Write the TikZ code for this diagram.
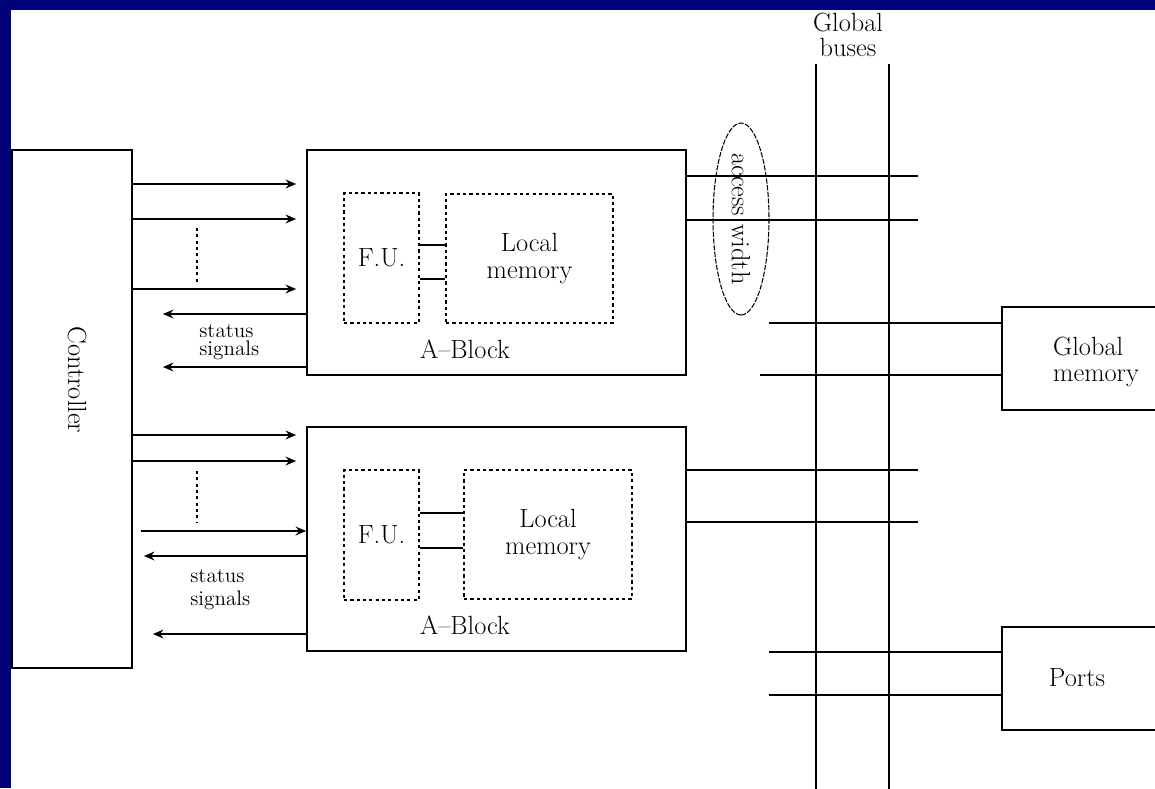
\documentclass[tikz,border=0pt]{standalone}
\usepackage{tikz}
\usetikzlibrary{arrows.meta,shapes.geometric}
\definecolor{slideblue}{RGB}{0,0,120}

\tikzset{
  blk/.style={draw, line width=1pt, inner sep=0pt},
  dotbox/.style={draw, line width=1pt, dash pattern=on 1.8pt off 1.8pt, inner sep=0pt},
  sig/.style={line width=1pt, -{Stealth[length=6pt,width=5pt,inset=2pt]}},
  wire/.style={line width=1pt},
  lbl/.style={font=\fontsize{15}{15}\selectfont, inner sep=0pt, align=center},
  small/.style={font=\fontsize{12}{10.5}\selectfont, inner sep=0pt, align=left, anchor=west},
}

\begin{document}
\begin{tikzpicture}[x=0.02cm, y=-0.02cm]
  \useasboundingbox (0,0) rectangle (1155,788);
  \clip (0,0) rectangle (1155,788);
  \fill[slideblue] (0,0) rectangle (1155,10);
  \fill[slideblue] (0,0) rectangle (11,788);

  % controller
  \node[blk, minimum width=2.4cm, minimum height=10.36cm] (ctrl) at (72,409) {};
  \node[lbl, rotate=-90] (ctrllbl) at (77,380) {Controller};

  % the two A-blocks
  \node[blk, minimum width=7.58cm, minimum height=4.5cm] (ab1) at (496.5,262.5) {};
  \node[blk, minimum width=7.58cm, minimum height=4.48cm] (ab2) at (496.5,539) {};
  \node[dotbox, lbl, minimum width=1.5cm, minimum height=2.6cm] (fu1) at (381.5,258) {F.U.};
  \node[dotbox, lbl, minimum width=3.34cm, minimum height=2.58cm] (lm1) at (529.5,258.5) {Local\\memory};
  \node[dotbox, lbl, minimum width=1.5cm, minimum height=2.6cm] (fu2) at (381.5,535) {F.U.};
  \node[dotbox, lbl, minimum width=3.36cm, minimum height=2.58cm] (lm2) at (548,534.5) {Local\\memory};
  \node[lbl] (ab1lbl) at (465,349) {A--Block};
  \node[lbl] (ab2lbl) at (465,625) {A--Block};
  \foreach \y in {245,279} \draw[wire] (fu1.east |- 0,\y) -- (lm1.west |- 0,\y);
  \foreach \y in {513,548} \draw[wire] (fu2.east |- 0,\y) -- (lm2.west |- 0,\y);

  % control and status signals
  \foreach \y in {184,219,289} \draw[sig, shorten >=0.2cm] (ctrl.east |- 0,\y) -- (ab1.west |- 0,\y);
  \foreach \y in {314,367} \draw[sig, shorten >=0.6cm] (ab1.west |- 0,\y) -- (ctrl.east |- 0,\y);
  \foreach \y in {435,461} \draw[sig, shorten >=0.2cm] (ctrl.east |- 0,\y) -- (ab2.west |- 0,\y);
  \draw[sig] ([xshift=0.16cm]ctrl.east |- 0,531) -- (ab2.west |- 0,531);
  \draw[sig, shorten >=0.22cm] (ab2.west |- 0,556) -- (ctrl.east |- 0,556);
  \draw[sig, shorten >=0.4cm] (ab2.west |- 0,634) -- (ctrl.east |- 0,634);
  \draw[line width=1pt, dash pattern=on 1.8pt off 1.8pt] (197,228) -- (197,282);
  \draw[line width=1pt, dash pattern=on 1.8pt off 1.8pt] (197,471) -- (197,523);
  \node[small] (st1) at (199,342) {status\\signals};
  \node[small, font=\fontsize{12}{13}\selectfont] (st2) at (190,590) {status\\signals};

  % global buses
  \node[lbl, font=\fontsize{15}{14.5}\selectfont] (buslbl) at (848,35) {Global\\buses};
  \foreach \x [count=\i] in {816,889} {
    \coordinate (bt\i) at (\x,64);
    \coordinate (bb\i) at (\x,800);
    \draw[wire] (bt\i) -- (bb\i);
  }
  \foreach \y [count=\i] in {176,220} {
    \coordinate (ta\i) at (918,\y);
    \draw[wire] (ab1.east |- ta\i) -- (ta\i);
  }
  \foreach \y [count=\i] in {470,522} {
    \coordinate (tb\i) at (918,\y);
    \draw[wire] (ab2.east |- tb\i) -- (tb\i);
  }
  \node[ellipse, draw, line width=0.6pt, dash pattern=on 3pt off 0.8pt, rotate=-90,
        minimum width=3.84cm, minimum height=1.12cm, lbl] (acc) at (741,219) {access width};

  % global memory and ports
  \node[blk, anchor=north west, minimum width=4cm, minimum height=2.06cm] (gmem) at (1001,306) {};
  \node[lbl, align=left] (gmemlbl) at (1096,362) {Global\\memory};
  \node[blk, anchor=north west, minimum width=4cm, minimum height=2.06cm] (ports) at (1001,626) {};
  \node[lbl] (portslbl) at (1077,678) {Ports};
  \coordinate (gm1) at (769,323);
  \coordinate (gm2) at (760,375);
  \coordinate (pt1) at (769,652);
  \coordinate (pt2) at (769,695);
  \draw[wire] (gm1) -- (gmem.west |- gm1);
  \draw[wire] (gm2) -- (gmem.west |- gm2);
  \draw[wire] (pt1) -- (ports.west |- pt1);
  \draw[wire] (pt2) -- (ports.west |- pt2);
\end{tikzpicture}
\end{document}
